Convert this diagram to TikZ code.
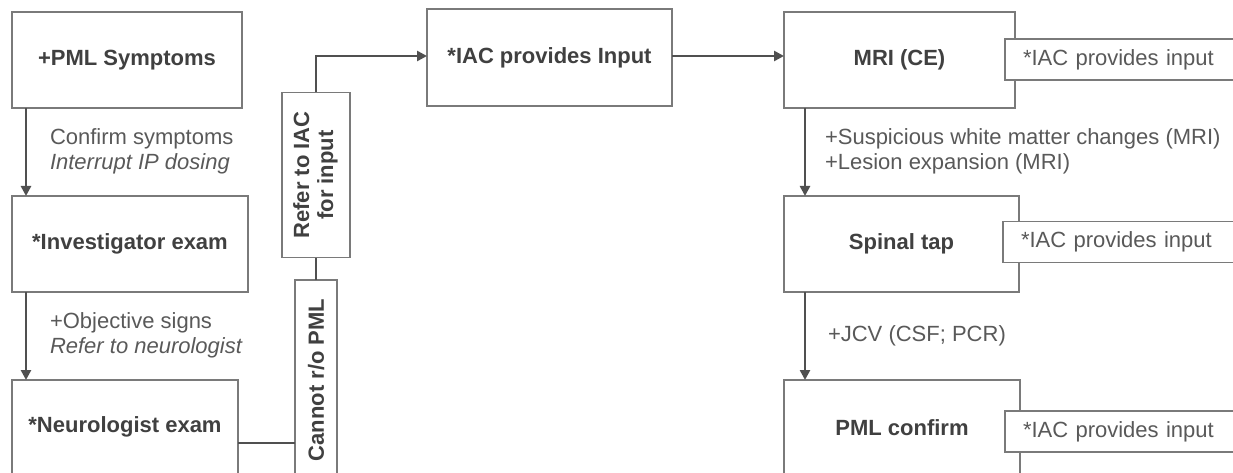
\documentclass[tikz,border=0pt]{standalone}
\usepackage{fontspec}
\setmainfont{Liberation Sans}
\usetikzlibrary{arrows.meta}
\definecolor{boxline}{HTML}{7A7A7A}
\definecolor{arrowline}{HTML}{505050}
\definecolor{headtext}{HTML}{404040}
\definecolor{notetext}{HTML}{595959}

\begin{document}
\begin{tikzpicture}[x=1pt,y=-1pt,
  every node/.style={inner sep=0pt, outer sep=0pt},
  stepbox/.style={draw=boxline, line width=1.4pt, fill=white, text=headtext,
    font=\bfseries\fontsize{22}{26}\selectfont, align=center},
  sidebox/.style={draw=boxline, line width=1.4pt, fill=white, text=notetext,
    font=\fontsize{22}{25}\selectfont, anchor=west, minimum height=41pt,
    inner xsep=18pt, text width=224pt, align=left},
  note/.style={text=notetext, font=\fontsize{22}{25}\selectfont, align=left, anchor=west},
  flow/.style={draw=arrowline, line width=2.6pt, -{Triangle[length=10pt,width=10pt]}},
  link/.style={draw=arrowline, line width=2.6pt},
]
\useasboundingbox (0,0) rectangle (1233,473);
\clip (0,0) rectangle (1233,473);

% left column: clinical work-up
\node[stepbox, minimum width=230pt, minimum height=96pt] (sym) at (127,60) {+PML Symptoms};
\node[stepbox, minimum width=236pt, minimum height=96pt] (inv) at (130,244) {*Investigator exam};
\node[stepbox, minimum width=226pt, minimum height=94pt] (neu) at (125,427) {*Neurologist exam};

% referral column with rotated labels
\node[stepbox, minimum width=68pt, minimum height=165pt] (refer) at (316,175)
  {\rotatebox{90}{\begin{tabular}{@{}c@{}}Refer to IAC\\[-2pt]for input\end{tabular}}};
\node[stepbox, minimum width=42pt, minimum height=200pt] (cannot) at (316,380)
  {\rotatebox{90}{Cannot r/o PML}};

% IAC review
\node[stepbox, minimum width=245pt, minimum height=97pt] (iac) at (549.5,57.5) {*IAC provides Input};

% right column: diagnostic confirmation
\node[stepbox, minimum width=231pt, minimum height=96pt] (mri) at (899.5,60) {MRI (CE)};
\node[stepbox, minimum width=235pt, minimum height=96pt] (spinal) at (901.5,244) {Spinal tap};
\node[stepbox, minimum width=236pt, minimum height=96pt] (pml) at (902,428) {PML confirm};

% IAC input tags beside each confirmation step
\node[sidebox] (mriside) at (1005,59.5) {*IAC provides input};
\node[sidebox] (spinalside) at (1003,242) {*IAC provides input};
\node[sidebox] (pmlside) at (1005,431.5) {*IAC provides input};

% left-column arrows and conditions
\draw[flow] ([xshift=14pt]sym.south west) -- ([xshift=14pt]sym.south west |- inv.north);
\node[note] (c1) at (50,151) {Confirm symptoms\\\textit{Interrupt IP dosing}};
\draw[flow] ([xshift=14pt]inv.south west) -- ([xshift=14pt]inv.south west |- neu.north);
\node[note] (c2) at (50,335) {+Objective signs\\\textit{Refer to neurologist}};

% referral path
\draw[link] ([yshift=-16pt]neu.east) -- ([yshift=-16pt]neu.east -| cannot.west);
\draw[link] (cannot.north) -- (refer.south);
\draw[flow] (refer.north) |- ([yshift=1.5pt]iac.west);
\draw[flow] ([yshift=1.5pt]iac.east) -- ([yshift=1.5pt]iac.east -| mri.west);

% right-column arrows and findings
\draw[flow] ([xshift=21pt]mri.south west) -- ([xshift=21pt]mri.south west |- spinal.north);
\node[note] (c3) at (825,151) {+Suspicious white matter changes (MRI)\\+Lesion expansion (MRI)};
\draw[flow] ([xshift=21pt]spinal.south west) -- ([xshift=21pt]spinal.south west |- pml.north);
\node[note] (c4) at (828,336) {+JCV (CSF; PCR)};
\end{tikzpicture}
\end{document}
